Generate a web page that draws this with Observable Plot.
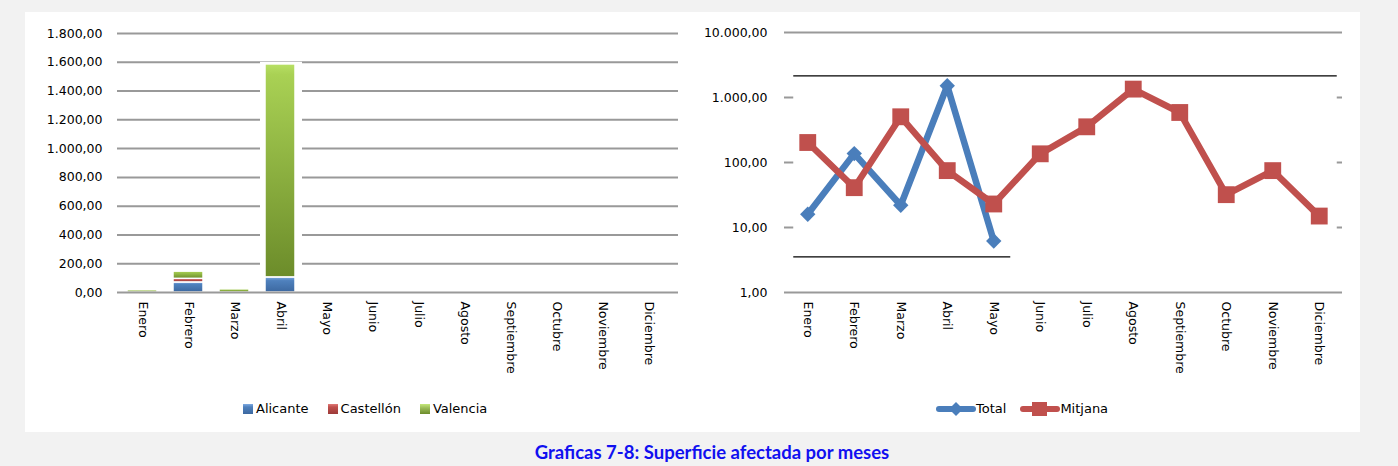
<!DOCTYPE html>
<html><head><meta charset="utf-8">
<script src="https://cdn.jsdelivr.net/npm/d3@7"></script>
<script src="https://cdn.jsdelivr.net/npm/@observablehq/plot@0.6"></script>
<style>
html,body{margin:0;padding:0;}
body{background:#f2f2f2;width:1398px;height:466px;overflow:hidden;position:relative;font-family:"DejaVu Sans",sans-serif;color:#000;}
#panel{position:absolute;left:25px;top:12px;width:1335px;height:420px;background:#fff;}
#left{position:absolute;left:25px;top:12px;}
#right{position:absolute;left:700px;top:12px;}
.legend{position:absolute;top:401px;font-size:13px;display:flex;align-items:center;white-space:nowrap;line-height:16px;}
.legend .it{display:flex;align-items:center;}
.sw{width:10px;height:10px;margin-right:3px;box-sizing:border-box;}
#title{position:absolute;left:0;width:1424px;top:441px;line-height:22px;text-align:center;font-family:Lato,"Open Sans",sans-serif;font-weight:bold;font-size:18.5px;color:#1010f0;}
</style></head>
<body>
<div id="panel"></div>
<div id="left"></div>
<div id="right"></div>
<div class="legend" id="legL" style="left:243px;"></div>
<div class="legend" id="legR" style="left:936px;"></div>
<div id="title">Graficas 7-8: Superficie afectada por meses</div>
<script>
const months = ["Enero","Febrero","Marzo","Abril","Mayo","Junio","Julio","Agosto","Septiembre","Octubre","Noviembre","Diciembre"];
const regions = ["Alicante","Castellón","Valencia"];
const alicante  = [0, 70, 0, 105, 0, 0, 0, 0, 0, 0, 0, 0];
const castellon = [0, 25, 0, 0,   0, 0, 0, 0, 0, 0, 0, 0];
const valencia  = [16, 50, 22, 1480, 6, 0, 0, 0, 0, 0, 0, 0];
const leftTicks = [0, 200, 400, 600, 800, 1000, 1200, 1400, 1600, 1800];
// white cover shape (with black top edge) behind the Abril bar
const leftCover = [{month: "Abril", top: 1600}];

const totalMonths = ["Enero","Febrero","Marzo","Abril","Mayo"];
const total   = [16, 137, 22, 1514, 6.2];
const mitjana = [203, 41, 505, 75, 23, 136, 354, 1346, 588, 32, 75, 15];
const rightTicks = [1, 10, 100, 1000, 10000];
// white cover shape over the right plot, black edges
const rightCover = {from: "Enero", to: "Diciembre", top: 2158, bottom: 3.54};
const rightBottomEdgeTo = "Mayo";

const colorsFill = {"Alicante": "url(#gA)", "Castellón": "url(#gC)", "Valencia": "url(#gV)"};
const blue = "#4a7ebb", red = "#c0504d";

const loc = d3.formatLocale({decimal: ",", thousands: ".", grouping: [3], currency: ["", ""]});
const fmt = loc.format(",.2f");

const rows = [];
months.forEach((m, i) => {
  [[regions[0], alicante[i]], [regions[1], castellon[i]], [regions[2], valencia[i]]].forEach(([r, v]) => {
    if (v > 0) rows.push({month: m, region: r, value: v});
  });
});

const defsHTML = `
<linearGradient id="gA" x1="0" y1="0" x2="0" y2="1"><stop offset="0" stop-color="#7eaae2"/><stop offset="0.25" stop-color="#4f81bd"/><stop offset="1" stop-color="#3c68a0"/></linearGradient>
<linearGradient id="gC" x1="0" y1="0" x2="0" y2="1"><stop offset="0" stop-color="#e07a77"/><stop offset="0.3" stop-color="#c0504d"/><stop offset="1" stop-color="#9c3a38"/></linearGradient>
<linearGradient id="gV" x1="0" y1="0" x2="0" y2="1"><stop offset="0" stop-color="#b8e064"/><stop offset="0.05" stop-color="#a9d154"/><stop offset="1" stop-color="#6c8c2a"/></linearGradient>`;
function addDefs(svg) {
  const ns = "http://www.w3.org/2000/svg";
  const defs = document.createElementNS(ns, "defs");
  defs.innerHTML = defsHTML;
  svg.insertBefore(defs, svg.firstChild);
}

const style = {fontFamily: "DejaVu Sans", fontSize: "12.5px", color: "#000", background: "transparent", overflow: "visible"};

const left = Plot.plot({
  width: 656, height: 370, marginLeft: 92, marginRight: 8, marginTop: 21, marginBottom: 90,
  style,
  x: {type: "band", domain: months, paddingInner: 0.353, paddingOuter: 0.1765, label: null},
  y: {domain: [0, 1800], label: null},
  color: {domain: regions, range: regions.map(r => colorsFill[r])},
  marks: [
    Plot.ruleY(leftTicks.slice(1), {stroke: "#999", strokeWidth: 2, insetRight: -5}),
    Plot.barY(leftCover, {x: "month", y1: 0, y2: "top", fill: "white", insetLeft: -5, insetRight: -7}),
    Plot.ruleY(leftCover, {x: "month", y: "top", stroke: "#000", strokeWidth: 1.3, insetLeft: -4, insetRight: -7}),
    Plot.barY(rows, {x: "month", y: "value", fill: "region", stroke: "white", strokeWidth: 1.5}),
    Plot.ruleY([0], {stroke: "#999", strokeWidth: 2, insetRight: -5}),
    Plot.axisY({ticks: leftTicks, tickFormat: fmt, tickSize: 0, tickPadding: 15, label: null}),
    Plot.axisX({tickSize: 0, tickRotate: 90, tickPadding: 9, label: null})
  ]
});
addDefs(left);
document.getElementById("left").appendChild(left);

const idx = m => months.indexOf(m);
const totalRows = totalMonths.map((m, i) => ({i: idx(m), v: total[i]}));
const mitRows = months.map((m, i) => ({i, v: mitjana[i]}));

const diamondSym = {draw(ctx, size) { const s = Math.sqrt(size) * 0.62; ctx.moveTo(0, -s); ctx.lineTo(s, 0); ctx.lineTo(0, s); ctx.lineTo(-s, 0); ctx.closePath(); }};
const squareSym = {draw(ctx, size) { const s = Math.sqrt(size) / 2; ctx.rect(-s, -s, 2 * s, 2 * s); }};

const right = Plot.plot({
  width: 650, height: 370, marginLeft: 84, marginRight: 8, marginTop: 20, marginBottom: 90,
  style,
  x: {type: "linear", domain: [-0.5, months.length - 0.5], label: null},
  y: {type: "log", domain: [1, 10000], label: null},
  marks: [
    Plot.ruleY(rightTicks, {stroke: "#999", strokeWidth: 2}),
    Plot.rect([rightCover], {x1: d => idx(d.from), x2: d => idx(d.to), y1: "bottom", y2: "top", fill: "white", insetLeft: -14, insetRight: -18}),
    Plot.ruleY([rightCover], {x1: d => idx(d.from), x2: d => idx(d.to), y: "top", stroke: "#000", strokeWidth: 1.3, insetLeft: -14, insetRight: -18}),
    Plot.ruleY([rightCover], {x1: d => idx(d.from), x2: () => idx(rightBottomEdgeTo), y: "bottom", stroke: "#000", strokeWidth: 1.3, insetLeft: -14, insetRight: -17}),
    Plot.line(totalRows, {x: "i", y: "v", stroke: blue, strokeWidth: 6.5, strokeLinejoin: "miter"}),
    Plot.dot(totalRows, {x: "i", y: "v", symbol: diamondSym, fill: blue, r: 7, stroke: "none"}),
    Plot.line(mitRows, {x: "i", y: "v", stroke: red, strokeWidth: 6.5, strokeLinejoin: "miter"}),
    Plot.dot(mitRows, {x: "i", y: "v", symbol: squareSym, fill: red, r: 9.5, stroke: "none"}),
    Plot.axisY({ticks: rightTicks, tickFormat: fmt, tickSize: 0, tickPadding: 17, label: null}),
    Plot.axisX({ticks: months.map((m, i) => i), tickFormat: i => months[i], tickSize: 0, tickRotate: 90, tickPadding: 9, label: null})
  ]
});
document.getElementById("right").appendChild(right);

// legends
const legL = document.getElementById("legL");
regions.forEach((r, k) => {
  const it = document.createElement("div");
  it.className = "it";
  if (k > 0) it.style.marginLeft = "19px";
  const grad = {"Alicante": "linear-gradient(#7eaae2,#4f81bd 30%,#3c68a0)", "Castellón": "linear-gradient(#e07a77,#c0504d 30%,#9c3a38)", "Valencia": "linear-gradient(#c4e87a,#9bbb59 40%,#6c8c2a)"}[r];
  it.innerHTML = `<div class="sw" style="background:${grad}"></div><span>${r}</span>`;
  legL.appendChild(it);
});
const legR = document.getElementById("legR");
[["Total", blue, "diamond"], ["Mitjana", red, "square"]].forEach(([n, c, s], k) => {
  const it = document.createElement("div");
  it.className = "it";
  if (k > 0) it.style.marginLeft = "14px";
  const mk = s === "diamond"
    ? `<path d="M20,1 L27,8 L20,15 L13,8 Z" fill="${c}"/>`
    : `<rect x="12" y="1" width="15" height="14" fill="${c}"/>`;
  it.innerHTML = `<svg width="40" height="16" style="margin-right:0px"><line x1="3" x2="37" y1="8" y2="8" stroke="${c}" stroke-width="6" stroke-linecap="round"/>${mk}</svg><span>${n}</span>`;
  legR.appendChild(it);
});
</script>
</body></html>
